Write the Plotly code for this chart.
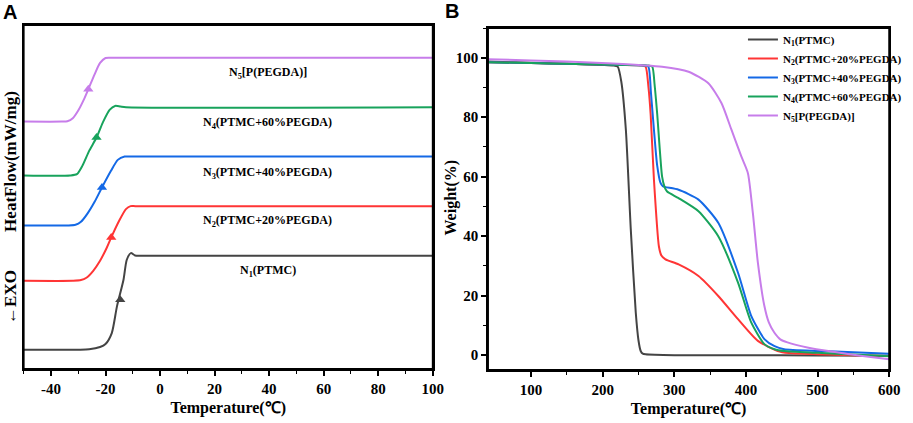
import plotly.graph_objects as go

# ---- Panel A: DSC curves (heat flow in arbitrary, offset units) ----
dsc_labels = [
    "N<sub>1</sub>(PTMC)",
    "N<sub>2</sub>(PTMC+20%PEGDA)",
    "N<sub>3</sub>(PTMC+40%PEGDA)",
    "N<sub>4</sub>(PTMC+60%PEGDA)",
    "N<sub>5</sub>[P(PEGDA)]",
]
colors = ["#444444", "#ff3535", "#1469e6", "#18a35c", "#c77dea"]

dsc_n1_t = [-50, -30, -26, -22, -20, -17.7, -15.8, -13.4, -12.2, -10.7, -9.2, -7, 100]
dsc_n1_y = [5.8, 5.8, 5.9, 6.6, 7.5, 10.8, 18.8, 26.8, 32.8, 34.8, 34.1, 34.0, 34.0]
dsc_n2_t = [-50, -32, -29, -27, -24.5, -22, -19.5, -17.9, -15, -12.5, -10.8, -9, 100]
dsc_n2_y = [26.5, 26.5, 26.7, 27.4, 29.5, 32.5, 36.5, 39.5, 44.5, 48.0, 48.9, 48.9, 48.9]
dsc_n3_t = [-50, -34, -31, -29, -26.5, -24, -21.3, -18, -15.5, -13, -11, 100]
dsc_n3_y = [43.1, 43.1, 43.3, 44.2, 46.8, 50.2, 54.5, 59.5, 62.8, 63.8, 63.8, 63.8]
dsc_n4_t = [-50, -33, -30.5, -28.5, -26, -23.3, -21, -18.5, -16.5, -14.5, -12.5, 100]
dsc_n4_y = [58.1, 58.1, 58.5, 61.0, 65.5, 69.5, 74.0, 77.8, 79.0, 78.8, 78.6, 78.6]
dsc_n5_t = [-50, -36, -34, -32, -30, -28, -26.3, -24, -22, -20, -18, 100]
dsc_n5_y = [74.3, 74.3, 74.4, 75.3, 77.6, 80.8, 84.0, 88.5, 91.9, 93.4, 93.5, 93.5]

# arrow markers sitting on each transition
arrow_t = [-14.6, -17.9, -21.3, -23.3, -26.3]
arrow_y = [20.8, 39.5, 54.5, 69.5, 84.0]

# label positions
label_t = [39.5, 39.5, 39.5, 39.5, 39.5]
label_y = [29.3, 44.5, 59.0, 73.8, 89.0]

dsc_ticks = [-40, -20, 0, 20, 40, 60, 80, 100]
dsc_ticktext = ["-40", "-20", "0", "20", "40", "60", "80", "100"]

# ---- Panel B: TGA curves ----
tga_n1_t = [40, 100, 150, 200, 215, 221, 226, 232.4, 239.3, 246.2, 250, 253.1, 256, 260, 300, 400, 500, 600]
tga_n1_w = [98.7, 98.3, 98.0, 97.6, 97.4, 97.0, 92.0, 75.8, 42.2, 14.4, 5.0, 1.4, 0.5, 0.3, 0.0, 0.0, -0.1, -0.2]
tga_n2_t = [40, 100, 150, 200, 255, 260, 264, 267, 271.6, 278.5, 282, 287.7, 306, 333.8, 361.4, 389, 416.7, 444.3, 460, 500, 550, 600]
tga_n2_w = [98.5, 98.2, 98.0, 97.7, 97.4, 97.0, 90.0, 81.0, 59.0, 36.6, 33.5, 32.2, 30.5, 26.6, 19.9, 12.1, 4.8, 1.4, 0.7, 0.3, 0.0, -0.3]
tga_n3_t = [40, 100, 150, 200, 258, 263.8, 267.5, 271.6, 276, 280.8, 284, 287.7, 306, 333.8, 361.4, 389, 407.4, 425.8, 440, 453.4, 500, 550, 600]
tga_n3_w = [98.5, 98.2, 98.0, 97.7, 97.4, 97.0, 88.0, 75.8, 64.0, 57.9, 56.8, 56.5, 55.6, 52.3, 44.5, 27.7, 13.2, 5.4, 3.0, 2.0, 1.4, 1.0, 0.5]
tga_n4_t = [40, 100, 150, 200, 264, 269.3, 272.5, 276.2, 283, 286.5, 290, 306, 333.8, 361.4, 389, 407.4, 425.8, 440, 453.4, 500, 550, 600]
tga_n4_w = [98.5, 98.2, 98.0, 97.7, 97.4, 97.0, 91.0, 81.0, 60.0, 56.5, 55.0, 52.8, 48.4, 40.0, 24.4, 11.0, 3.7, 2.0, 1.4, 0.8, 0.2, -0.4]
tga_n5_t = [40, 100, 150, 214, 283, 320, 347.6, 366, 379.8, 393.6, 402.8, 409.7, 416.7, 425.8, 432, 439.6, 448, 458, 485.7, 520, 560, 600]
tga_n5_w = [99.5, 99.1, 98.7, 98.1, 97.0, 95.3, 91.4, 84.7, 75.8, 66.8, 61.2, 47.8, 31.1, 16.5, 11.0, 7.6, 5.3, 4.3, 2.6, 1.2, -0.2, -1.4]

dsc_t = [dsc_n1_t, dsc_n2_t, dsc_n3_t, dsc_n4_t, dsc_n5_t]
dsc_y = [dsc_n1_y, dsc_n2_y, dsc_n3_y, dsc_n4_y, dsc_n5_y]
tga_t = [tga_n1_t, tga_n2_t, tga_n3_t, tga_n4_t, tga_n5_t]
tga_w = [tga_n1_w, tga_n2_w, tga_n3_w, tga_n4_w, tga_n5_w]

SERIF = "Liberation Serif"
W, H = 913, 423


def serif(size):
    return dict(family=SERIF, size=size, color="black", weight="bold")


fig = go.Figure()

for i in range(5):
    fig.add_trace(go.Scatter(
        x=dsc_t[i], y=dsc_y[i], mode="lines",
        line=dict(color=colors[i], width=2, shape="spline", smoothing=0.7),
        xaxis="x", yaxis="y", showlegend=False, hoverinfo="skip",
    ))
    fig.add_trace(go.Scatter(
        x=[arrow_t[i]], y=[arrow_y[i]], mode="markers",
        marker=dict(symbol="triangle-up", size=9, color=colors[i]),
        xaxis="x", yaxis="y", showlegend=False, hoverinfo="skip",
    ))
    fig.add_annotation(
        x=label_t[i], y=label_y[i], xref="x", yref="y", text=dsc_labels[i],
        showarrow=False, font=serif(12),
    )

for i in range(5):
    fig.add_trace(go.Scatter(
        x=tga_t[i], y=tga_w[i], mode="lines", name=dsc_labels[i],
        line=dict(color=colors[i], width=2, shape="spline", smoothing=0.6),
        xaxis="x2", yaxis="y2",
    ))

axis_common = dict(
    showline=True, linecolor="black", linewidth=1.8, mirror=True,
    showgrid=False, zeroline=False, tickwidth=1.5, tickcolor="black",
    tickfont=serif(15),
)
minor_out = dict(ticks="outside", ticklen=3, tickwidth=1.2, tickcolor="black")

fig.update_layout(
    width=W, height=H,
    margin=dict(l=0, r=0, t=0, b=0),
    paper_bgcolor="white", plot_bgcolor="white",
    xaxis=dict(
        domain=[24 / W, 438 / W], range=[-50, 100],
        tickvals=dsc_ticks, ticktext=dsc_ticktext,
        ticks="outside", ticklen=5, minor=dict(dtick=10, tick0=-50, **minor_out),
        title=dict(text="Temperature(℃)", standoff=6, font=serif(16)),
        anchor="y", **axis_common,
    ),
    yaxis=dict(
        domain=[1 - 369 / H, 1 - 25 / H], range=[0, 103.3],
        showticklabels=False, ticks="", anchor="x", **axis_common,
    ),
    xaxis2=dict(
        domain=[494 / W, 900 / W], range=[40, 600], tickvals=[100, 200, 300, 400, 500, 600],
        ticks="outside", ticklen=5,
        minor=dict(tickvals=[150, 250, 350, 450, 550], **minor_out),
        title=dict(text="Temperature(℃)", standoff=6, font=serif(16)),
        anchor="y2", **axis_common,
    ),
    yaxis2=dict(
        domain=[1 - 370 / H, 1 - 28 / H], range=[-5, 110], tick0=0, dtick=20,
        ticks="outside", ticklen=5, minor=dict(dtick=10, **minor_out),
        anchor="x2", **axis_common,
    ),
    legend=dict(
        x=752 / W, y=1 - 25 / H, xanchor="left", yanchor="top", itemwidth=30,
        bgcolor="rgba(0,0,0,0)", tracegroupgap=0, font=serif(11),
    ),
)

# plain frames around both panels
for xr, yr in (("x domain", "y domain"), ("x2 domain", "y2 domain")):
    fig.add_shape(type="rect", xref=xr, yref=yr, x0=0, x1=1, y0=0, y1=1,
                  line=dict(color="black", width=1.8))

# y-axis titles and panel letters
fig.add_annotation(x=10 / W, y=1 - 161 / H, xref="paper", yref="paper", text="HeatFlow(mW/mg)",
                   xanchor="center", yanchor="middle", textangle=-90, showarrow=False, font=serif(17))
fig.add_annotation(x=10 / W, y=1 - 297 / H, xref="paper", yref="paper", text="←EXO",
                   xanchor="center", yanchor="middle", textangle=-90, showarrow=False, font=serif(17))
fig.add_annotation(x=456 / W, y=1 - 198 / H, xref="paper", yref="paper", text="Weight(%)",
                   xanchor="center", yanchor="middle", textangle=-90, showarrow=False, font=serif(16))
fig.add_annotation(x=10 / W, y=1 - 12 / H, xref="paper", yref="paper", text="A",
                   xanchor="center", yanchor="middle", showarrow=False,
                   font=dict(family="Liberation Sans", size=20, color="black", weight="bold"))
fig.add_annotation(x=458 / W, y=1 - 11 / H, xref="paper", yref="paper", text="B",
                   xanchor="center", yanchor="middle", showarrow=False,
                   font=dict(family="Liberation Sans", size=20, color="black", weight="bold"))

# drop the browser's default 8px body margin so the figure fills the window
fig.write_html("out.html", config={"displayModeBar": False},
               post_script="document.body.style.margin='0';")
